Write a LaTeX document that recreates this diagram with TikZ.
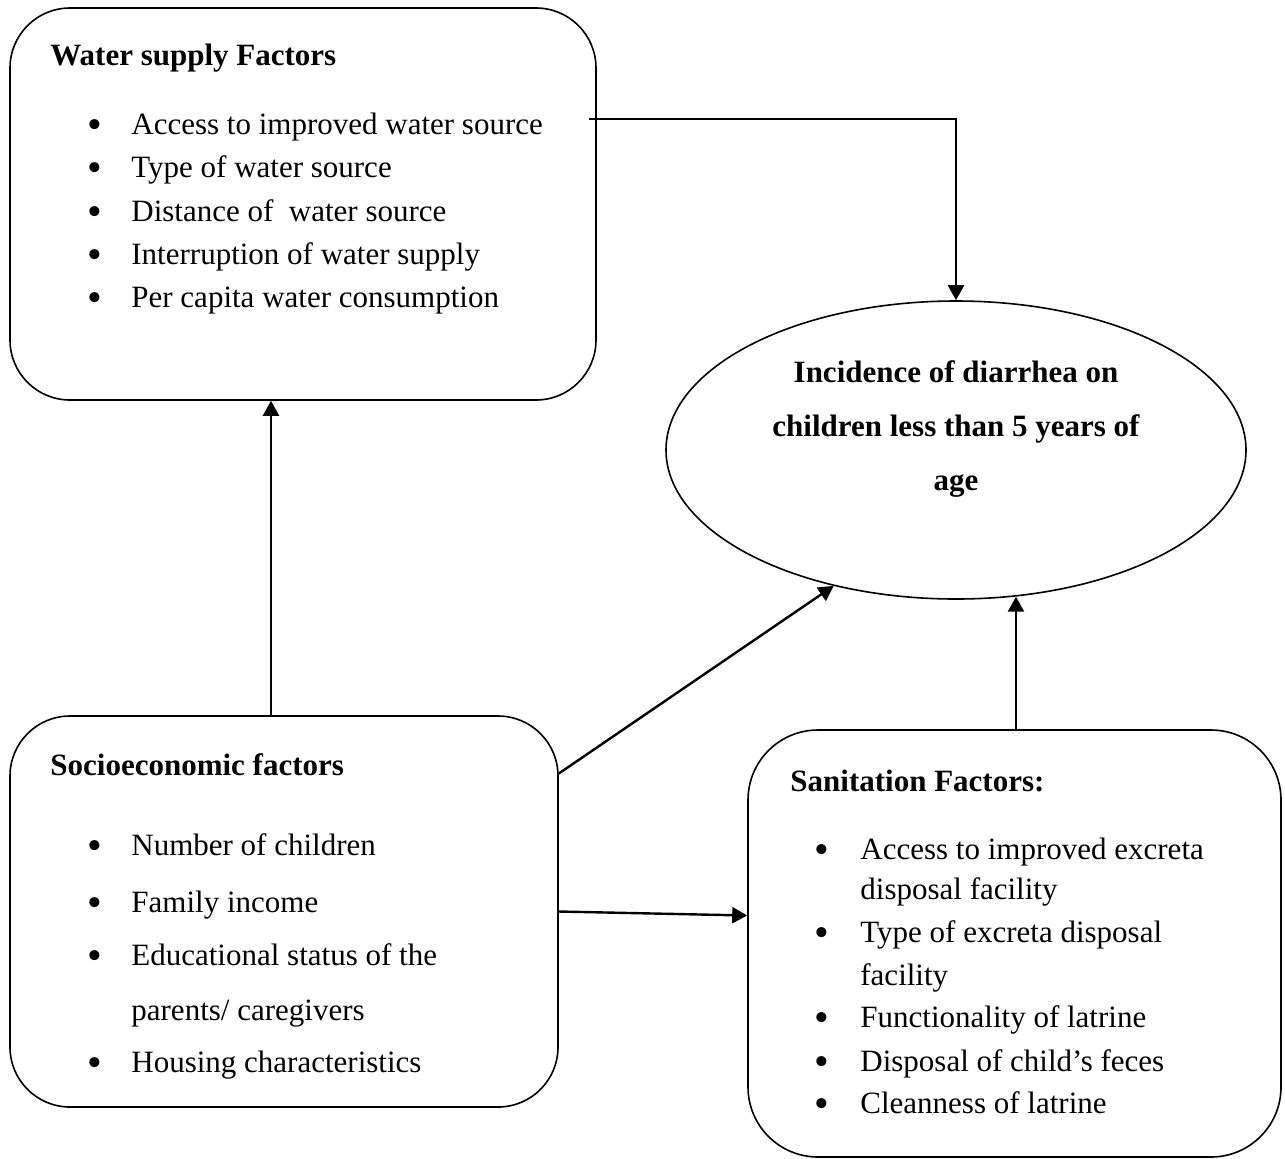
\documentclass[tikz,border=0pt]{standalone}
\usepackage{fontspec}
\setmainfont{Liberation Serif}
\usepackage{tikz}
\usetikzlibrary{
  arrows.meta,
  shapes.geometric
}
\tikzset{
  % Bloklar
  factorbox/.style = {draw, line width=0.8pt, rounded corners=30pt, inner sep=0pt},
  outcome/.style   = {ellipse, draw, line width=0.8pt, inner sep=0pt,
                      minimum width=290pt, minimum height=149pt},
  % Matnlar
  head/.style      = {anchor=base west, font=\bfseries, inner sep=0pt},
  item/.style      = {anchor=base west, inner sep=0pt},
  bul/.style       = {anchor=base, inner sep=0pt, yshift=-2.2pt,
                      font=\fontsize{21pt}{21pt}\selectfont},
  % Strelkalar
  link/.style      = {-{Triangle[length=7.5pt,width=8pt]}, line width=1.2pt},
}
\begin{document}
\fontsize{15.5pt}{21.5pt}\selectfont
\begin{tikzpicture}[x=0.5pt, y=-0.5pt]
  \useasboundingbox (0,0) rectangle (1285,1158);
  % Bloklar
  \node[factorbox, minimum width=293pt, minimum height=196pt] (water) at (303,204) {};
  \node[factorbox, minimum width=274pt, minimum height=195.5pt] (socio) at (284,911.5) {};
  \node[factorbox, rounded corners=35pt, minimum width=266.5pt, minimum height=213.5pt] (sanit) at (1014.5,943.5) {};
  \node[outcome] (incid) at (956,450) {};
  % Suv ta'minoti
  \node[head] (wtitle) at (50,65) {Water supply Factors};
  \foreach \y [count=\i] in {134,177,221,264,307}
    \node[bul] (wb\i) at (95,\y) {\textbullet};
  \node[item] (wi1) at (131,134) {Access to improved water source};
  \node[item] (wi2) at (131,177) {Type of water source};
  \node[item] (wi3) at (131,221) {Distance of \ water source};
  \node[item] (wi4) at (131,264) {Interruption of water supply};
  \node[item] (wi5) at (131,307) {Per capita water consumption};
  % Natija
  \node[font=\bfseries\fontsize{15.5pt}{27pt}\selectfont, align=center] (itext) at (956,429)
    {Incidence of diarrhea on\\children less than 5 years of\\age};
  % Ijtimoiy-iqtisodiy
  \node[head] (stitle) at (50,775) {Socioeconomic factors};
  \foreach \y [count=\i] in {855,912,965,1072}
    \node[bul] (sb\i) at (95,\y) {\textbullet};
  \node[item] (si1) at (131,855) {Number of children};
  \node[item] (si2) at (131,912) {Family income};
  \node[item] (si3) at (131,965) {Educational status of the};
  \node[item] (si3b) at (131,1020) {parents/ caregivers};
  \node[item] (si4) at (131,1072) {Housing characteristics};
  % Sanitariya
  \node[head] (ntitle) at (790,791) {Sanitation Factors:};
  \foreach \y [count=\i] in {859,942,1027,1071,1113}
    \node[bul] (nb\i) at (822,\y) {\textbullet};
  \node[item] (ni1) at (860,859) {Access to improved excreta};
  \node[item] (ni1b) at (860,899) {disposal facility};
  \node[item] (ni2) at (860,942) {Type of excreta disposal};
  \node[item] (ni2b) at (860,985) {facility};
  \node[item] (ni3) at (860,1027) {Functionality of latrine};
  \node[item] (ni4) at (860,1071) {Disposal of child’s feces};
  \node[item] (ni5) at (860,1113) {Cleanness of latrine};
  % Strelkalar
  \draw[link] ([xshift=-4pt,yshift=-56pt]water.north east) -| (incid.north);
  \draw[link] ([xshift=-6.5pt]socio.north) -- ([xshift=-6.5pt]socio.north |- water.south);
  \draw[link] ([yshift=69pt]socio.east) -- (incid.228);
  \draw[link] (socio.east) -- ([yshift=14pt]sanit.west);
  \draw[link] ([xshift=0.75pt]sanit.north) -- ([xshift=0.75pt]sanit.north |- incid.292);
\end{tikzpicture}
\end{document}
